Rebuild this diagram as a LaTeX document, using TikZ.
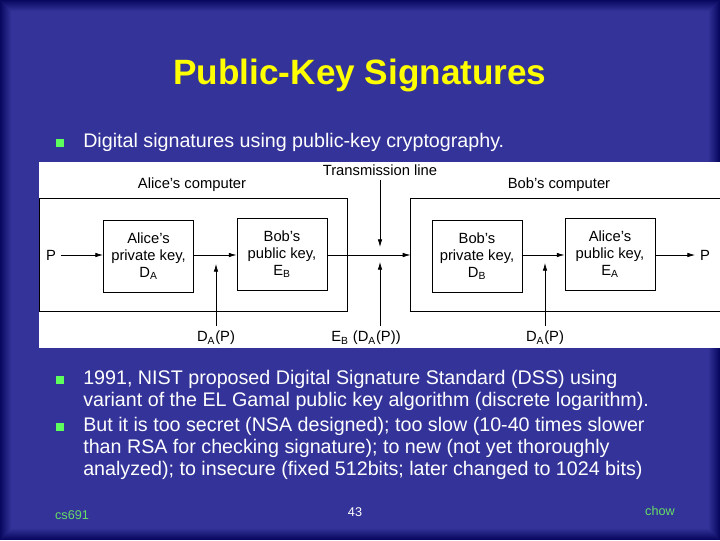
\documentclass[tikz,border=0pt]{standalone}
\usepackage{fontspec}
\setmainfont{Liberation Sans}
\usetikzlibrary{arrows.meta,positioning}
\definecolor{slideblue}{RGB}{51,51,153}
\definecolor{slidedark}{RGB}{8,8,96}
\definecolor{titleyellow}{RGB}{255,255,0}
\definecolor{bulletgreen}{RGB}{92,255,92}
\definecolor{footgreen}{RGB}{102,221,102}
\begin{document}
\begin{tikzpicture}[x=0.025cm, y=-0.025cm, every node/.style={font=\fontsize{10.5}{12}\selectfont}]
  \tikzstyle{keybox}=[draw,line width=0.7pt,minimum width=2.25cm,minimum height=1.8cm,align=center,inner sep=0pt]
  \tikzstyle{compbox}=[draw,line width=0.7pt,minimum height=2.8cm,inner sep=0pt]
  \tikzstyle{sig}=[-{Latex[length=5.5pt,width=3.2pt]},line width=0.5pt]
  \tikzstyle{bullet}=[fill=bulletgreen,minimum size=0.2cm,inner sep=0pt]
  \tikzstyle{body}=[font=\fontsize{14}{15.6}\selectfont,white,align=left,inner sep=0pt,anchor=north west]
  \useasboundingbox (0,0) rectangle (720,540);
  % slide background with dark rim
  \fill[slideblue] (0,0) rectangle (720,540);
  \foreach \i in {0,...,11}{
    \pgfmathtruncatemacro{\p}{100-\i*9}
    \draw[slidedark!\p!slideblue,line width=0.75pt] (\i+0.5,\i+0.5) rectangle (719.5-\i,539.5-\i);
  }
  \node[font=\fontsize{25}{28}\bfseries\selectfont,titleyellow] (title) at (360,75) {Public-Key Signatures};
  % first bullet
  \node[bullet] (b1) at (60,143) {};
  \node[body] (t1) at (83,133) {Digital signatures using public-key cryptography.};
  % diagram
  \fill[white] (39,162) rectangle (720,348);
  \begin{scope}
    \clip (39,162) rectangle (720,348);
    \node[compbox,minimum width=7.7cm] (acomp) at (193.5,255) {};
    \node[compbox,minimum width=8cm] (bcomp) at (571,255) {};
  \end{scope}
  \node (alab) at (192,185) {Alice's computer};
  \node (blab) at (559,185) {Bob's computer};
  \node (tline) at (380,170) {Transmission line};
  \node (pin) at (51,255) {P};
  \node[keybox] (apriv) at (148.5,256) {Alice's\\private key,\\D\textsubscript{A}};
  \node[keybox] (bpub) at (282,254) {Bob's\\public key,\\E\textsubscript{B}};
  \node[keybox] (bpriv) at (477,256) {Bob's\\private key,\\D\textsubscript{B}};
  \node[keybox] (apub) at (610,254) {Alice's\\public key,\\E\textsubscript{A}};
  \node (pout) at (705,255) {P};
  \node (sig1) at (216,338) {D\textsubscript{A}(P)};
  \node (cipher) at (366,338) {E\textsubscript{B} (D\textsubscript{A}(P))};
  \node (sig2) at (545,338) {D\textsubscript{A}(P)};
  \coordinate (tin) at (380,247);
  \coordinate (tout) at (380,262);
  \coordinate (hit1) at (216,264);
  \coordinate (hit2) at (545,263);
  \draw[sig] (pin) -- (apriv.west |- pin);
  \draw[sig] (apriv.east |- pin) -- (bpub.west |- pin);
  \draw[sig] (bpub.east |- pin) -- (bcomp.west |- pin);
  \draw[sig] (bpriv.east |- pin) -- (apub.west |- pin);
  \draw[sig] (apub.east |- pin) -- (pout);
  \draw[sig] (tline) -- (tin);
  \draw[sig] (cipher.north -| tin) -- (tout);
  \draw[sig] (sig1) -- (hit1);
  \draw[sig] (sig2) -- (hit2);
  % remaining bullets
  \node[bullet] (b2) at (60,380) {};
  \node[body] (t2) at (83,370) {1991, NIST proposed Digital Signature Standard (DSS) using\\variant of the EL Gamal public key algorithm (discrete logarithm).};
  \node[bullet] (b3) at (60,427) {};
  \node[body] (t3) at (83,417) {But it is too secret (NSA designed); too slow (10-40 times slower\\than RSA for checking signature); to new (not yet thoroughly\\analyzed); to insecure (fixed 512bits; later changed to 1024 bits)};
  % footer
  \node[font=\fontsize{9}{10}\selectfont,footgreen] (course) at (72,515) {cs691};
  \node[font=\fontsize{9}{10}\selectfont,white] (page) at (355,512) {43};
  \node[font=\fontsize{9}{10}\selectfont,footgreen] (author) at (660,511) {chow};
\end{tikzpicture}
\end{document}
